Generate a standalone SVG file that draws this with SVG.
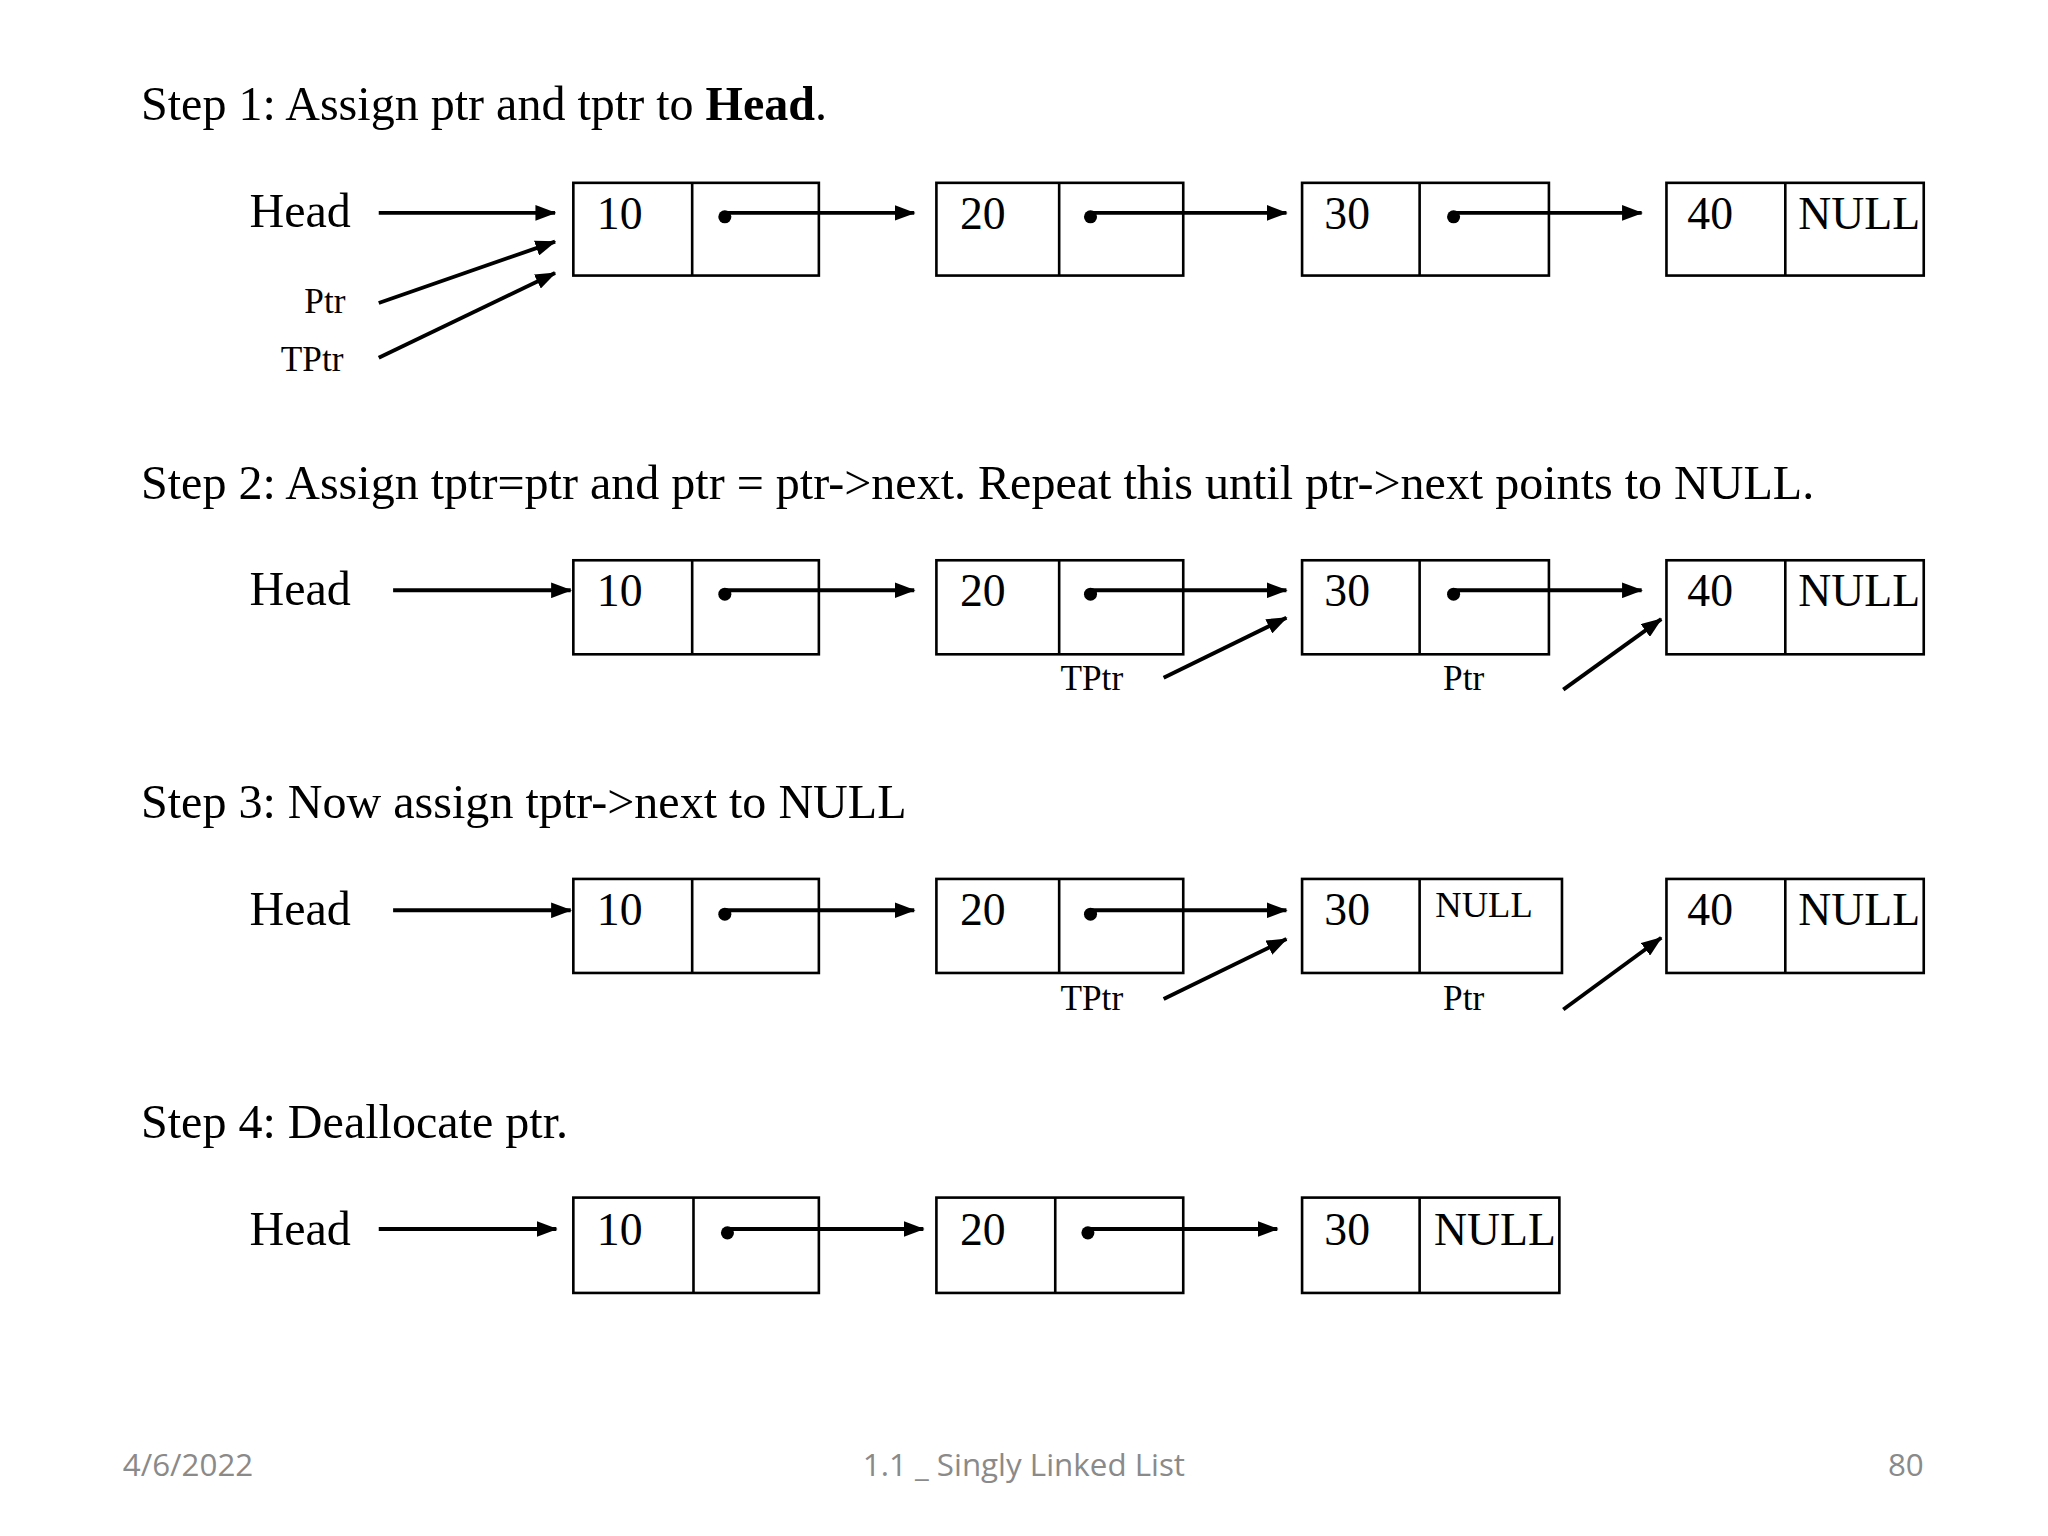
<svg xmlns="http://www.w3.org/2000/svg" width="2048" height="1536" viewBox="0 0 2048 1536">
<defs>
<marker id="ah" viewBox="0 0 16 12" refX="15" refY="6" markerWidth="16" markerHeight="12" markerUnits="userSpaceOnUse" orient="auto"><path d="M0,0 L16,6 L0,12 z" fill="#000"/></marker>
<style>
.t{font-family:"Liberation Serif","Times New Roman",serif;fill:#000}
.h{font-size:36.8px}.v{font-size:35px}.s{font-size:27px}.n{font-size:28px}
.b{fill:none;stroke:#000;stroke-width:2}
.c line{stroke:#000;stroke-width:3;marker-end:url(#ah)}
.f{font-family:"Open Sans","Liberation Sans",sans-serif;font-size:24px;fill:#8a8a8a}
</style>
</defs>
<rect width="2048" height="1536" fill="#fff"/>
<g transform="scale(1.306)">
<text class="t h" x="108" y="92">Step 1: Assign ptr and tptr to <tspan font-weight="bold">Head</tspan>.</text>
<text class="t h" x="108" y="382">Step 2: Assign tptr=ptr and ptr = ptr-&gt;next. Repeat this until ptr-&gt;next points to NULL.</text>
<text class="t h" x="108" y="626">Step 3: Now assign tptr-&gt;next to NULL</text>
<text class="t h" x="108" y="871">Step 4: Deallocate ptr.</text>

<g id="r1">
<text class="t h" x="191" y="174">Head</text>
<text class="t s" x="233" y="240">Ptr</text>
<text class="t s" x="215" y="284">TPtr</text>
<g id="r1n10"><rect class="b" x="439" y="140" width="188" height="71"/><line x1="530" y1="140" x2="530" y2="211" stroke="#000" stroke-width="2"/><text class="t v" x="457" y="175">10</text><circle cx="555" cy="166" r="5"/></g>
<g id="r1n20"><rect class="b" x="717" y="140" width="189" height="71"/><line x1="811" y1="140" x2="811" y2="211" stroke="#000" stroke-width="2"/><text class="t v" x="735" y="175">20</text><circle cx="835" cy="166" r="5"/></g>
<g id="r1n30"><rect class="b" x="997" y="140" width="189" height="71"/><line x1="1087" y1="140" x2="1087" y2="211" stroke="#000" stroke-width="2"/><text class="t v" x="1014" y="175">30</text><circle cx="1113" cy="166" r="5"/></g>
<g id="r1n40"><rect class="b" x="1276" y="140" width="197" height="71"/><line x1="1367" y1="140" x2="1367" y2="211" stroke="#000" stroke-width="2"/><text class="t v" x="1292" y="175">40</text><text class="t v" x="1377" y="175">NULL</text></g>
</g>
<g class="c" id="c1">
<line x1="290" y1="163" x2="425" y2="163"/><line x1="290" y1="232" x2="425" y2="185"/><line x1="290" y1="274" x2="425" y2="209"/>
<line x1="555" y1="163" x2="700" y2="163"/><line x1="835" y1="163" x2="985" y2="163"/><line x1="1113" y1="163" x2="1257" y2="163"/>
</g>

<g id="r2">
<text class="t h" x="191" y="463">Head</text>
<text class="t s" x="812" y="528">TPtr</text>
<text class="t s" x="1105" y="528">Ptr</text>
<g id="r2n10"><rect class="b" x="439" y="429" width="188" height="72"/><line x1="530" y1="429" x2="530" y2="501" stroke="#000" stroke-width="2"/><text class="t v" x="457" y="464">10</text><circle cx="555" cy="455" r="5"/></g>
<g id="r2n20"><rect class="b" x="717" y="429" width="189" height="72"/><line x1="811" y1="429" x2="811" y2="501" stroke="#000" stroke-width="2"/><text class="t v" x="735" y="464">20</text><circle cx="835" cy="455" r="5"/></g>
<g id="r2n30"><rect class="b" x="997" y="429" width="189" height="72"/><line x1="1087" y1="429" x2="1087" y2="501" stroke="#000" stroke-width="2"/><text class="t v" x="1014" y="464">30</text><circle cx="1113" cy="455" r="5"/></g>
<g id="r2n40"><rect class="b" x="1276" y="429" width="197" height="72"/><line x1="1367" y1="429" x2="1367" y2="501" stroke="#000" stroke-width="2"/><text class="t v" x="1292" y="464">40</text><text class="t v" x="1377" y="464">NULL</text></g>
</g>
<g class="c" id="c2">
<line x1="301" y1="452" x2="437" y2="452"/><line x1="555" y1="452" x2="700" y2="452"/><line x1="835" y1="452" x2="985" y2="452"/><line x1="1113" y1="452" x2="1257" y2="452"/>
<line x1="891" y1="519" x2="985" y2="473"/><line x1="1197" y1="528" x2="1272" y2="474"/>
</g>

<g id="r3">
<text class="t h" x="191" y="708">Head</text>
<text class="t s" x="812" y="773">TPtr</text>
<text class="t s" x="1105" y="773">Ptr</text>
<g id="r3n10"><rect class="b" x="439" y="673" width="188" height="72"/><line x1="530" y1="673" x2="530" y2="745" stroke="#000" stroke-width="2"/><text class="t v" x="457" y="708">10</text><circle cx="555" cy="700" r="5"/></g>
<g id="r3n20"><rect class="b" x="717" y="673" width="189" height="72"/><line x1="811" y1="673" x2="811" y2="745" stroke="#000" stroke-width="2"/><text class="t v" x="735" y="708">20</text><circle cx="835" cy="700" r="5"/></g>
<g id="r3n30"><rect class="b" x="997" y="673" width="199" height="72"/><line x1="1087" y1="673" x2="1087" y2="745" stroke="#000" stroke-width="2"/><text class="t v" x="1014" y="708">30</text><text class="t n" x="1099" y="702">NULL</text></g>
<g id="r3n40"><rect class="b" x="1276" y="673" width="197" height="72"/><line x1="1367" y1="673" x2="1367" y2="745" stroke="#000" stroke-width="2"/><text class="t v" x="1292" y="708">40</text><text class="t v" x="1377" y="708">NULL</text></g>
</g>
<g class="c" id="c3">
<line x1="301" y1="697" x2="437" y2="697"/><line x1="555" y1="697" x2="700" y2="697"/><line x1="835" y1="697" x2="985" y2="697"/>
<line x1="891" y1="765" x2="985" y2="719"/><line x1="1197" y1="773" x2="1272" y2="718"/>
</g>

<g id="r4">
<text class="t h" x="191" y="953">Head</text>
<g id="r4n10"><rect class="b" x="439" y="917" width="188" height="73"/><line x1="531" y1="917" x2="531" y2="990" stroke="#000" stroke-width="2"/><text class="t v" x="457" y="953">10</text><circle cx="557" cy="944" r="5"/></g>
<g id="r4n20"><rect class="b" x="717" y="917" width="189" height="73"/><line x1="808" y1="917" x2="808" y2="990" stroke="#000" stroke-width="2"/><text class="t v" x="735" y="953">20</text><circle cx="833" cy="944" r="5"/></g>
<g id="r4n30"><rect class="b" x="997" y="917" width="197" height="73"/><line x1="1087" y1="917" x2="1087" y2="990" stroke="#000" stroke-width="2"/><text class="t v" x="1014" y="953">30</text><text class="t v" x="1098" y="953">NULL</text></g>
</g>
<g class="c" id="c4">
<line x1="290" y1="941" x2="426" y2="941"/><line x1="557" y1="941" x2="707" y2="941"/><line x1="833" y1="941" x2="978" y2="941"/>
</g>

<text class="f" x="94" y="1130">4/6/2022</text>
<text class="f" x="784" y="1130" text-anchor="middle">1.1 _ Singly Linked List</text>
<text class="f" x="1473" y="1130" text-anchor="end">80</text>
</g>
</svg>
